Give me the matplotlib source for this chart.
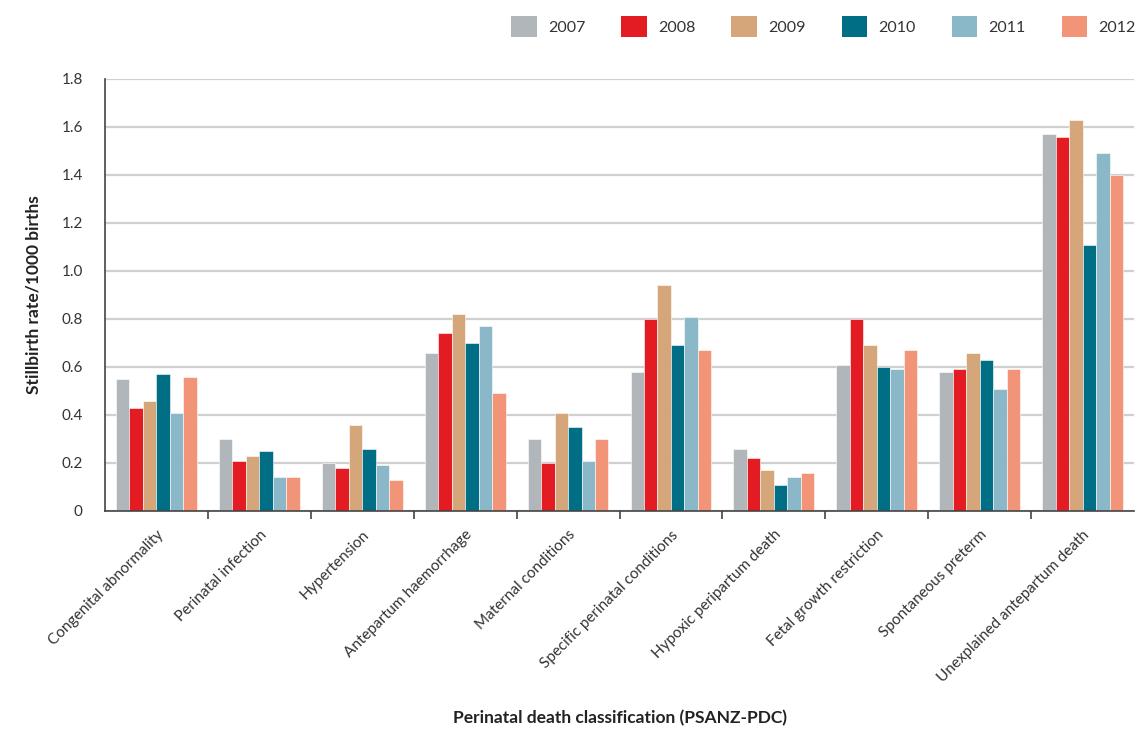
import numpy as np
import matplotlib
matplotlib.use("Agg")
import matplotlib.pyplot as plt
from matplotlib.patches import Patch
from matplotlib.ticker import FixedLocator, FuncFormatter

plt.rcParams['font.family'] = ['Lato', 'DejaVu Sans']

categories = [
    "Congenital abnormality", "Perinatal infection", "Hypertension",
    "Antepartum haemorrhage", "Maternal conditions", "Specific perinatal conditions",
    "Hypoxic peripartum death", "Fetal growth restriction", "Spontaneous preterm",
    "Unexplained antepartum death",
]
years = ["2007", "2008", "2009", "2010", "2011", "2012"]

rate_2007 = [0.55, 0.30, 0.20, 0.66, 0.30, 0.58, 0.26, 0.61, 0.58, 1.57]
rate_2008 = [0.43, 0.21, 0.18, 0.74, 0.20, 0.80, 0.22, 0.80, 0.59, 1.56]
rate_2009 = [0.46, 0.23, 0.36, 0.82, 0.41, 0.94, 0.17, 0.69, 0.66, 1.63]
rate_2010 = [0.57, 0.25, 0.26, 0.70, 0.35, 0.69, 0.11, 0.60, 0.63, 1.11]
rate_2011 = [0.41, 0.14, 0.19, 0.77, 0.21, 0.81, 0.14, 0.59, 0.51, 1.49]
rate_2012 = [0.56, 0.14, 0.13, 0.49, 0.30, 0.67, 0.16, 0.67, 0.59, 1.40]

series = [rate_2007, rate_2008, rate_2009, rate_2010, rate_2011, rate_2012]
colors = ["#B1B6BA", "#E31B23", "#D4A67A", "#006F86", "#8AB8C9", "#F29478"]

fig = plt.figure(figsize=(11.39, 7.29), dpi=100)
ax = fig.add_axes([105 / 1139, 218 / 729, 1029 / 1139, 432 / 729])

n = len(series)
bar_w = 0.131
x = np.arange(len(categories))
for i, (vals, col) in enumerate(zip(series, colors)):
    offs = (i - (n - 1) / 2) * bar_w
    ax.bar(x + offs, vals, width=bar_w, color=col, edgecolor="white",
           linewidth=0.4, zorder=3)

ax.set_xlim(-0.5, len(categories) - 0.5)
ax.set_ylim(0, 1.8)

# horizontal grid
yt = np.arange(0, 1.81, 0.2)
ax.yaxis.set_major_locator(FixedLocator(yt))
ax.yaxis.set_major_formatter(FuncFormatter(lambda v, p: "0" if abs(v) < 1e-9 else f"{v:.1f}"))
ax.grid(axis="y", color="#D0D0D0", linewidth=1.6, zorder=0)
ax.tick_params(axis="y", length=0, pad=16, labelsize=11, labelcolor="#333333")

# category labels centred, boundary ticks between groups
ax.set_xticks(x)
ax.set_xticklabels(categories, rotation=45, ha="right", rotation_mode="anchor",
                   fontsize=11, color="#333333")
ax.tick_params(axis="x", which="major", length=0, pad=12)
ax.set_xticks(np.arange(0.5, len(categories) - 1, 1.0), minor=True)
ax.tick_params(axis="x", which="minor", length=6, width=1.2, color="#444444")

for side in ["top", "right"]:
    ax.spines[side].set_visible(False)
for side in ["left", "bottom"]:
    ax.spines[side].set_color("#444444")
    ax.spines[side].set_linewidth(1.2)
    ax.spines[side].set_zorder(4)

ax.set_ylabel("Stillbirth rate/1000 births", fontsize=12.5, fontweight="bold",
              color="#222222", labelpad=14)
fig.text(620 / 1139, 1 - 718 / 729, "Perinatal death classification (PSANZ-PDC)",
         ha="center", va="center", fontsize=12.5, fontweight="bold", color="#222222")

handles = [Patch(facecolor=c, edgecolor="none") for c in colors]
fig.legend(handles, years, loc="upper right", bbox_to_anchor=(1150 / 1139, 1 - 2 / 729),
           ncol=6, frameon=False, fontsize=11.5, handlelength=1.6, handleheight=1.6,
           handletextpad=0.7, columnspacing=2.25, labelcolor="#333333")

fig.savefig("out.png", dpi=100)
